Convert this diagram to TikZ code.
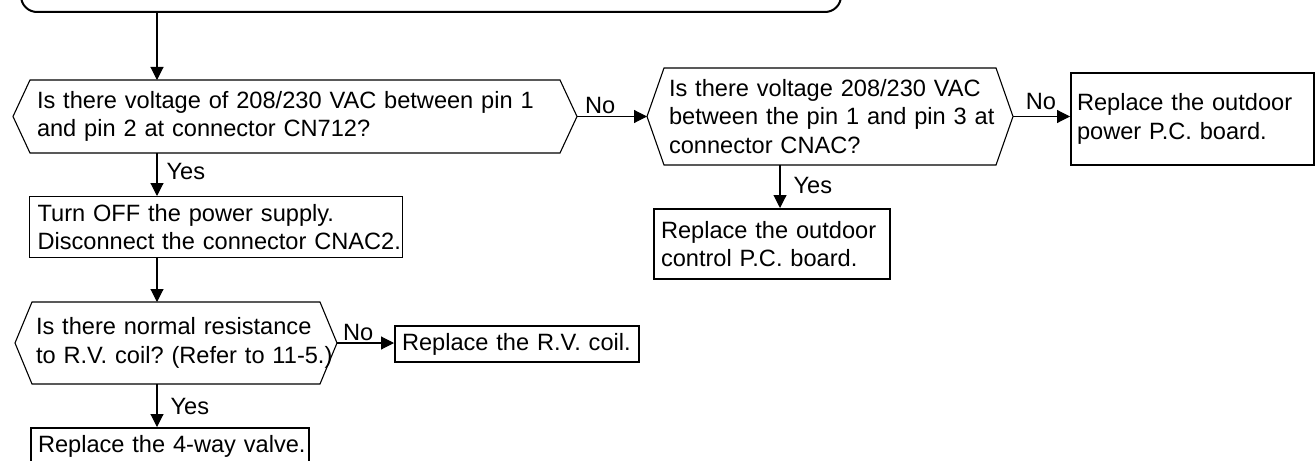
\documentclass[tikz,border=0pt]{standalone}
\usepackage{fontspec}
\setmainfont{Liberation Sans}
\usetikzlibrary{arrows.meta,calc}
\frenchspacing
\begin{document}
\begin{tikzpicture}[x=0.5pt,y=-0.5pt,
  every node/.style={font=\fontsize{11.8pt}{14.2pt}\selectfont},
  hexa/.style={draw=none, outer sep=0pt, inner ysep=2pt, align=left, anchor=north west},
  hexline/.style={line width=0.55pt, line join=miter},
  thinbox/.style={draw, line width=0.6pt, inner ysep=2pt, align=left, anchor=north west},
  thickbox/.style={draw, line width=1pt, inner ysep=2pt, align=left, anchor=north west},
  arr/.style={line width=0.55pt, -{Triangle[length=6.5pt,width=6.5pt]}},
  lab/.style={inner sep=1pt},
]
\useasboundingbox (0,0) rectangle (1315,460);
\clip (0,0) rectangle (1315,460);

% top (cut-off) box
\node[draw, line width=1pt, rounded corners=8pt, minimum width=410pt, minimum height=60pt,
      anchor=south west, inner sep=0pt] (top) at (20,13) {};

% decisions
\node[hexa, inner xsep=12pt, text width=258pt, minimum width=282pt, minimum height=36.5pt] (d1) at (13,80)
  {\mbox{Is there voltage of 208/230 VAC between pin 1}\\\mbox{and pin 2 at connector CN712?}};
\node[hexa, inner xsep=11pt, text width=161pt, minimum width=183pt, minimum height=48.5pt] (d2) at (647,68)
  {\mbox{Is there voltage 208/230 VAC}\\\mbox{between the pin 1 and pin 3 at}\\\mbox{connector CNAC?}};
\node[hexa, inner xsep=10.5pt, text width=140pt, minimum width=161pt, minimum height=41pt] (d3) at (15,302)
  {\mbox{Is there normal resistance}\\\mbox{to R.V. coil? (Refer to 11-5.)}};

\foreach \d in {d1,d2,d3}{
  \draw[hexline] (\d.west) -- ([xshift=8.5pt]\d.north west) -- ([xshift=-8.5pt]\d.north east)
    -- (\d.east) -- ([xshift=-8.5pt]\d.south east) -- ([xshift=8.5pt]\d.south west) -- cycle;
}

% process boxes
\node[thickbox, inner xsep=3pt, text width=115.5pt, minimum height=46pt] (b5) at (1070,72)
  {\mbox{Replace the outdoor}\\\mbox{power P.C. board.}};
\node[thickbox, inner xsep=3.5pt, text width=111pt, minimum height=35pt] (ctrl) at (653,208)
  {\mbox{Replace the outdoor}\\\mbox{control P.C. board.}};
\node[thinbox, inner xsep=4pt, text width=178.5pt, minimum height=30.5pt] (boff) at (29,196)
  {\mbox{Turn OFF the power supply.}\\\mbox{Disconnect the connector CNAC2.}};
\node[thickbox, inner xsep=3.5pt, text width=115pt, minimum height=18pt] (rv) at (394,325)
  {\mbox{Replace the R.V. coil.}};
\node[thickbox, inner xsep=3.5pt, text width=132pt, minimum height=18.5pt] (fin) at (30,427)
  {\mbox{Replace the 4-way valve.}};

% connectors
\coordinate (cx) at (157,0);
\coordinate (cx2) at (780,0);
\draw[arr] (cx |- top.south) -- (cx |- d1.north);
\draw[arr] (d1.east) -- node[lab, above, pos=0.33] (n1) {No} (d2.west);
\draw[arr] (d2.east) -- node[lab, above=2pt, pos=0.49] (n2) {No} (d2.east -| b5.west);
\draw[arr] (cx2 |- d2.south) -- node[lab, right, pos=0.48, xshift=5.5pt] (y2) {Yes} (cx2 |- ctrl.north);
\draw[arr] (cx |- d1.south) -- node[lab, right, pos=0.42, xshift=3.5pt] (y1) {Yes} (cx |- boff.north);
\draw[arr] (cx |- boff.south) -- (cx |- d3.north);
\draw[arr] (d3.east) -- node[lab, above, pos=0.37] (n3) {No} (d3.east -| rv.west);
\draw[arr] (cx |- d3.south) -- node[lab, right, pos=0.52, xshift=5.5pt] (y3) {Yes} (cx |- fin.north);
\end{tikzpicture}
\end{document}
